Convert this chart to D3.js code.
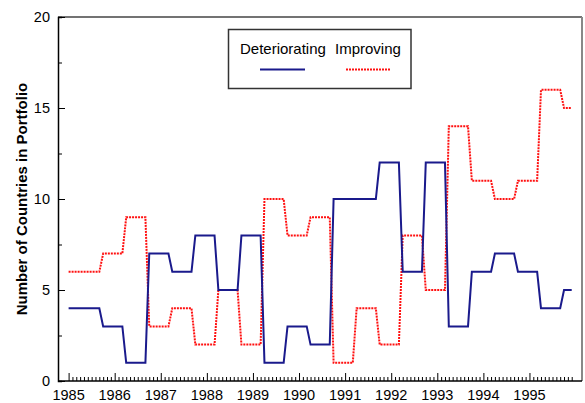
<!DOCTYPE html>
<html>
<head>
<meta charset="utf-8">
<script src="https://cdn.jsdelivr.net/npm/d3@7"></script>
<style>
  html, body { margin: 0; padding: 0; background: #fff; }
  svg { display: block; font-family: Arial, "Liberation Sans", sans-serif; }
</style>
</head>
<body>
<svg id="chart" width="585" height="403"></svg>
<script>
// Portfolio composition, semi-annual rebalancing periods (month index from Jan 1985)
const periodStart = [0, 9, 15, 21, 27, 33, 39, 45, 51, 57, 63, 69, 75, 81, 87, 93, 99, 105, 111, 117, 123, 129];
const lastMonth = 131;
const deteriorating = [4, 3, 1, 7, 6, 8, 5, 8, 1, 3, 2, 10, 10, 12, 6, 12, 3, 6, 7, 6, 4, 5];
const improving     = [6, 7, 9, 3, 4, 2, 5, 2, 10, 8, 9, 1, 4, 2, 8, 5, 14, 11, 10, 11, 16, 15];
const yearTicks = [1985, 1986, 1987, 1988, 1989, 1990, 1991, 1992, 1993, 1994, 1995];
const yTicks = [0, 5, 10, 15, 20];
const seriesNames = ["Deteriorating", "Improving"];

const svg = d3.select("#chart");
const L = 58, T = 17, R = 582, B = 381;

const x = d3.scaleLinear().domain([1984.77, 1996.14]).range([L, R]);
const y = d3.scaleLinear().domain([0, 20]).range([B, T]);

// Each period holds its value from its first to its last month
function toPoints(values) {
  const pts = [];
  values.forEach((v, i) => {
    const s = periodStart[i];
    const e = i < periodStart.length - 1 ? periodStart[i + 1] - 1 : lastMonth;
    pts.push([1985 + s / 12, v]);
    pts.push([1985 + e / 12, v]);
  });
  return pts;
}

const line = d3.line().x(d => x(d[0])).y(d => y(d[1]));

// series
svg.append("path")
  .attr("d", line(toPoints(improving)))
  .attr("fill", "none")
  .attr("stroke", "#ff1010")
  .attr("stroke-width", 2)
  .attr("stroke-dasharray", "2,1");

svg.append("path")
  .attr("d", line(toPoints(deteriorating)))
  .attr("fill", "none")
  .attr("stroke", "#1a1a8c")
  .attr("stroke-width", 2);

// frame: top and right
svg.append("line").attr("x1", L).attr("x2", R).attr("y1", T).attr("y2", T)
  .attr("stroke", "#444").attr("stroke-width", 1.5);
svg.append("line").attr("x1", R).attr("x2", R).attr("y1", T).attr("y2", B)
  .attr("stroke", "#888").attr("stroke-width", 2);

// y axis (ticks pointing inward)
const yAxis = d3.axisRight(y)
  .tickValues(d3.range(0, 20.01, 2.5))
  .tickSize(4)
  .tickFormat("");
const gy = svg.append("g").attr("transform", `translate(${L},0)`).call(yAxis);
gy.selectAll(".tick line").attr("stroke", "#000")
  .attr("x2", d => (d % 5 === 0 ? 7 : 4));
gy.select(".domain").attr("stroke", "#000").attr("stroke-width", 1.5);

svg.append("g").selectAll("text").data(yTicks).join("text")
  .attr("x", 50).attr("y", d => y(d)).attr("dy", "0.36em")
  .attr("text-anchor", "end").attr("font-size", 14.5).attr("fill", "#000")
  .text(d => d);

// x axis: yearly major ticks, monthly minor ticks, pointing up
const monthTicks = d3.range(0, 132).map(m => 1985 + m / 12);
const gx = svg.append("g").attr("transform", `translate(0,${B})`);
gx.call(d3.axisTop(x).tickValues(monthTicks).tickSize(4).tickFormat("").tickSizeOuter(0));
gx.selectAll(".tick line").attr("stroke", "#000").attr("stroke-width", 1)
  .attr("y2", (d, i) => (i % 12 === 0 ? -8 : -4));
gx.select(".domain").attr("stroke", "#000").attr("stroke-width", 1.5)
  .attr("d", `M${L},0H${R}`);

svg.append("g").selectAll("text").data(yearTicks).join("text")
  .attr("x", d => x(d)).attr("y", 400)
  .attr("text-anchor", "middle").attr("font-size", 14.5).attr("fill", "#000")
  .text(d => d);

// y axis title
svg.append("text")
  .attr("transform", "translate(27,199) rotate(-90)")
  .attr("text-anchor", "middle")
  .attr("font-size", 15).attr("font-weight", "bold").attr("fill", "#000")
  .text("Number of Countries in Portfolio");

// legend
const lg = svg.append("g");
lg.append("rect").attr("x", 228.5).attr("y", 29.5).attr("width", 182.5).attr("height", 59)
  .attr("fill", "#fff").attr("stroke", "#333").attr("stroke-width", 1.5);
lg.append("text").attr("x", 240).attr("y", 54).attr("font-size", 15).attr("fill", "#000").text(seriesNames[0]);
lg.append("text").attr("x", 335).attr("y", 54).attr("font-size", 15).attr("fill", "#000").text(seriesNames[1]);
lg.append("line").attr("x1", 260).attr("x2", 305).attr("y1", 69.5).attr("y2", 69.5)
  .attr("stroke", "#1a1a8c").attr("stroke-width", 2);
lg.append("line").attr("x1", 346).attr("x2", 390).attr("y1", 69.5).attr("y2", 69.5)
  .attr("stroke", "#ff1010").attr("stroke-width", 2).attr("stroke-dasharray", "2,1");
</script>
</body>
</html>
